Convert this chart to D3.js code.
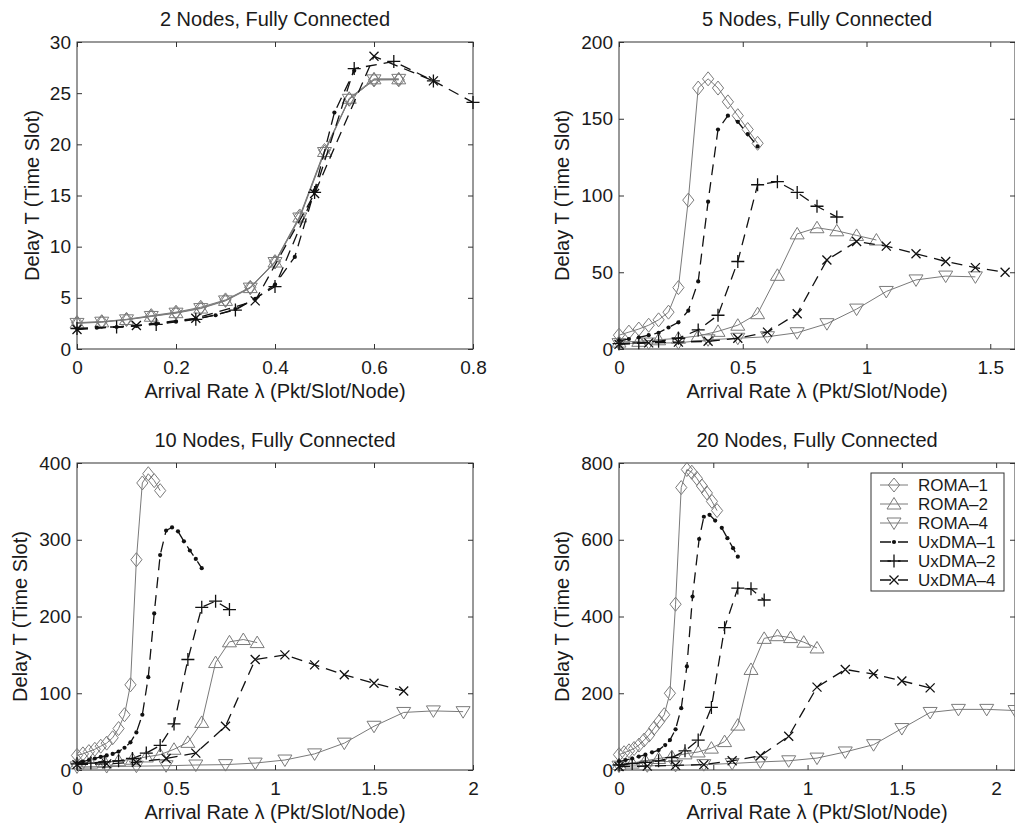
<!DOCTYPE html>
<html>
<head>
<meta charset="utf-8">
<script src="https://cdn.jsdelivr.net/npm/d3@7"></script>
<style>
	body { margin: 0; background: #fff; }
	text { font-family: "Liberation Sans", Arial, Helvetica, sans-serif; fill: #1a1a1a; }
</style>
</head>
<body>
<svg id="chart" width="1015" height="828"></svg>
<script>
/* series names, in legend order */
const seriesNames = ["ROMA–1", "ROMA–2", "ROMA–4", "UxDMA–1", "UxDMA–2", "UxDMA–4"];

/* ---- 2 nodes ---- */
const n2_roma1 = [[0,2.58],[0.05,2.67],[0.1,2.9],[0.15,3.26],[0.2,3.6],[0.25,4.08],[0.3,4.8],[0.35,6.03],[0.4,8.54],[0.45,13.0],[0.5,19.4],[0.55,24.4],[0.6,26.3],[0.65,26.3]];
const n2_roma2 = [[0,2.55],[0.05,2.65],[0.1,2.88],[0.15,3.2],[0.2,3.55],[0.25,4.0],[0.3,4.75],[0.35,6.0],[0.4,8.5],[0.45,12.9],[0.5,19.3],[0.55,24.5],[0.6,26.4],[0.65,26.4]];
const n2_roma4 = [[0,2.5],[0.05,2.62],[0.1,2.85],[0.15,3.18],[0.2,3.5],[0.25,3.95],[0.3,4.7],[0.35,5.95],[0.4,8.45],[0.45,12.8],[0.5,19.2],[0.55,24.4],[0.6,26.3],[0.65,26.35]];
const n2_uxdma1 = [[0,2.0],[0.04,2.08],[0.08,2.15],[0.12,2.25],[0.16,2.45],[0.2,2.67],[0.24,2.95],[0.28,3.3],[0.32,3.9],[0.36,4.9],[0.4,6.3],[0.44,9.0],[0.48,15.5],[0.52,23.1],[0.56,27.2]];
const n2_uxdma2 = [[0,2.0],[0.08,2.15],[0.16,2.4],[0.24,2.9],[0.32,3.8],[0.4,6.1],[0.48,15.3],[0.56,27.4],[0.64,28.1],[0.72,26.2],[0.8,24.1]];
const n2_uxdma4 = [[0,1.9],[0.12,2.3],[0.24,3.0],[0.36,4.7],[0.48,15.2],[0.6,28.6],[0.72,26.2]];

/* ---- 5 nodes ---- */
const n5_roma1 = [[0,9],[0.04,11],[0.08,13],[0.12,15.5],[0.16,19],[0.2,24],[0.24,40],[0.28,97],[0.32,170],[0.36,176],[0.4,170],[0.44,161],[0.48,152],[0.52,143],[0.56,134]];
const n5_roma2 = [[0,4.5],[0.08,5],[0.16,6],[0.24,7],[0.32,8.5],[0.4,11.5],[0.48,15.5],[0.56,23],[0.64,48],[0.72,75],[0.8,79],[0.88,77],[0.96,74],[1.04,71]];
const n5_roma4 = [[0,3.5],[0.12,3.9],[0.24,4],[0.36,6],[0.48,7],[0.6,8],[0.72,10.6],[0.84,16.5],[0.96,26],[1.08,37.5],[1.2,45],[1.32,47.5],[1.44,47]];
const n5_uxdma1 = [[0,5.5],[0.04,6.5],[0.08,7.5],[0.12,9],[0.16,10.6],[0.2,14],[0.24,17.4],[0.28,25],[0.32,44],[0.36,96],[0.4,143],[0.44,152],[0.48,148],[0.52,140],[0.56,132]];
const n5_uxdma2 = [[0,3.5],[0.08,4],[0.16,5],[0.24,7],[0.32,12.4],[0.4,22],[0.48,57],[0.56,107],[0.64,109],[0.72,102],[0.8,93],[0.88,86]];
const n5_uxdma4 = [[0,3],[0.12,4],[0.24,4.5],[0.36,5],[0.48,7],[0.6,11],[0.72,23],[0.84,58],[0.96,70],[1.08,67],[1.2,62],[1.32,57],[1.44,53],[1.56,50]];

/* ---- 10 nodes ---- */
const n10_roma1 = [[0,19],[0.03,21],[0.06,24],[0.09,27],[0.12,31],[0.15,35],[0.18,42],[0.21,54],[0.24,72],[0.27,111],[0.3,274],[0.33,374],[0.36,386],[0.39,377],[0.42,364]];
const n10_roma2 = [[0,8],[0.07,9],[0.14,10],[0.21,12],[0.28,14],[0.35,17],[0.42,20],[0.49,27],[0.56,36],[0.63,62],[0.7,140],[0.77,167],[0.84,170],[0.91,166]];
const n10_roma4 = [[0,4],[0.15,4.5],[0.3,5],[0.45,5.5],[0.6,6.5],[0.75,7],[0.9,9],[1.05,13],[1.2,21],[1.35,35],[1.5,57],[1.65,75],[1.8,77],[1.95,76]];
const n10_uxdma1 = [[0,9],[0.03,11],[0.06,13],[0.09,15],[0.12,17],[0.15,19],[0.18,21],[0.21,24],[0.24,29],[0.27,36],[0.3,49],[0.33,72],[0.36,121],[0.39,204],[0.42,280],[0.45,312],[0.48,316],[0.51,311],[0.54,298],[0.57,286],[0.6,275],[0.63,263]];
const n10_uxdma2 = [[0,8],[0.07,9],[0.14,10.5],[0.21,12],[0.28,15],[0.35,22],[0.42,32],[0.49,60],[0.56,144],[0.63,212],[0.7,220],[0.77,209]];
const n10_uxdma4 = [[0,7],[0.15,8],[0.3,10],[0.45,15],[0.6,22],[0.75,57],[0.9,144],[1.05,150],[1.2,137],[1.35,124],[1.5,113],[1.65,103]];

/* ---- 20 nodes ---- */
const n20_roma1 = [[0,40],[0.027,45],[0.053,50],[0.08,56],[0.106,65],[0.133,78],[0.16,91],[0.186,109],[0.213,126],[0.24,144],[0.27,200],[0.3,432],[0.33,736],[0.36,783],[0.386,776],[0.413,760],[0.44,740],[0.466,722],[0.493,700],[0.52,676]];
const n20_roma2 = [[0,14],[0.07,18],[0.14,24],[0.21,30],[0.28,35],[0.35,42],[0.42,47],[0.49,57],[0.56,74],[0.63,117],[0.7,262],[0.77,343],[0.84,350],[0.91,345],[0.98,333],[1.05,318]];
const n20_roma4 = [[0,10],[0.15,11],[0.3,12],[0.45,14],[0.6,17],[0.75,21],[0.9,24],[1.05,31],[1.2,47],[1.35,66],[1.5,108],[1.65,150],[1.8,158],[1.95,158],[2.1,155]];
const n20_uxdma1 = [[0,22],[0.035,26],[0.07,30],[0.105,35],[0.14,40],[0.175,46],[0.21,52],[0.245,65],[0.27,78],[0.3,106],[0.33,161],[0.36,270],[0.39,452],[0.425,602],[0.45,660],[0.48,665],[0.51,650],[0.545,631],[0.575,604],[0.605,578],[0.63,556]];
const n20_uxdma2 = [[0,13],[0.07,17],[0.14,20],[0.21,24],[0.28,32],[0.35,50],[0.42,78],[0.49,163],[0.56,371],[0.63,474],[0.7,472],[0.77,443]];
const n20_uxdma4 = [[0,9],[0.15,10],[0.3,12],[0.45,14],[0.6,24],[0.75,37],[0.9,88],[1.05,216],[1.2,262],[1.35,250],[1.5,232],[1.65,214]];

/* axis ticks */
const xTicks_n2 = [0, 0.2, 0.4, 0.6, 0.8];
const yTicks_n2 = [0, 5, 10, 15, 20, 25, 30];
const xTicks_n5 = [0, 0.5, 1, 1.5];
const yTicks_n5 = [0, 50, 100, 150, 200];
const xTicks_n10 = [0, 0.5, 1, 1.5, 2];
const yTicks_n10 = [0, 100, 200, 300, 400];
const xTicks_n20 = [0, 0.5, 1, 1.5, 2];
const yTicks_n20 = [0, 200, 400, 600, 800];

const titles = ["2 Nodes, Fully Connected", "5 Nodes, Fully Connected", "10 Nodes, Fully Connected", "20 Nodes, Fully Connected"];

/* styles for each series */
const GRAY = "#7a7a7a", BLACK = "#111";
const styles = [
	{ color: GRAY, dash: null, width: 1, marker: "diamond" },
	{ color: GRAY, dash: null, width: 1, marker: "triUp" },
	{ color: GRAY, dash: null, width: 1, marker: "triDown" },
	{ color: BLACK, dash: "11,7", width: 1.3, marker: "dot" },
	{ color: BLACK, dash: "11,7", width: 1.3, marker: "plus" },
	{ color: BLACK, dash: "11,7", width: 1.3, marker: "cross" }
];

const markerPaths = {
	diamond: "M0,-7L5.6,0L0,7L-5.6,0Z",
	triUp: "M0,-6.5L7,5L-7,5Z",
	triDown: "M0,6.5L7,-5L-7,-5Z",
	plus: "M-6.5,0H6.5M0,-6.5V6.5",
	cross: "M-4.5,-4.5L4.5,4.5M4.5,-4.5L-4.5,4.5"
};

const W = 396, H = 307;
const panels = [
	{ left: 77,  top: 42,  xMax: 0.8, yMax: 30,  xTicks: xTicks_n2,  yTicks: yTicks_n2,  ylabX: 39,  series: [n2_roma1, n2_roma2, n2_roma4, n2_uxdma1, n2_uxdma2, n2_uxdma4] },
	{ left: 619, top: 42,  xMax: 1.6, yMax: 200, xTicks: xTicks_n5,  yTicks: yTicks_n5,  ylabX: 569, series: [n5_roma1, n5_roma2, n5_roma4, n5_uxdma1, n5_uxdma2, n5_uxdma4] },
	{ left: 77,  top: 463, xMax: 2,   yMax: 400, xTicks: xTicks_n10, yTicks: yTicks_n10, ylabX: 27,  series: [n10_roma1, n10_roma2, n10_roma4, n10_uxdma1, n10_uxdma2, n10_uxdma4] },
	{ left: 619, top: 463, xMax: 2.1, yMax: 800, xTicks: xTicks_n20, yTicks: yTicks_n20, ylabX: 569, series: [n20_roma1, n20_roma2, n20_roma4, n20_uxdma1, n20_uxdma2, n20_uxdma4] }
];

const svg = d3.select("#chart");

function drawMarker(g, style, x, y) {
	if (style.marker === "dot") {
		g.append("circle").attr("cx", x).attr("cy", y).attr("r", 2.1)
			.attr("fill", style.color);
	} else {
		g.append("path").attr("d", markerPaths[style.marker])
			.attr("transform", `translate(${x},${y})`)
			.attr("fill", "none")
			.attr("stroke", style.color)
			.attr("stroke-width", style.marker === "plus" || style.marker === "cross" ? 1.3 : 1);
	}
}

panels.forEach((p, i) => {
	const g = svg.append("g").attr("transform", `translate(${p.left},${p.top})`);
	const x = d3.scaleLinear().domain([0, p.xMax]).range([0, W]);
	const y = d3.scaleLinear().domain([0, p.yMax]).range([H, 0]);
	const fmt = (d) => String(d);

	/* axes with inward ticks on all four sides */
	const axB = g.append("g").attr("transform", `translate(0,${H})`)
		.call(d3.axisBottom(x).tickValues(p.xTicks).tickSize(-5).tickPadding(12).tickFormat(fmt));
	const axL = g.append("g")
		.call(d3.axisLeft(y).tickValues(p.yTicks).tickSize(-5).tickPadding(6).tickFormat(fmt));
	g.append("g").call(d3.axisTop(x).tickValues(p.xTicks).tickSize(-5).tickFormat(""));
	g.append("g").attr("transform", `translate(${W},0)`)
		.call(d3.axisRight(y).tickValues(p.yTicks).tickSize(-5).tickFormat(""));
	g.selectAll(".domain").remove();
	g.selectAll(".tick line").attr("stroke", "#333").attr("stroke-width", 1);
	g.selectAll(".tick text").attr("font-size", 19).attr("fill", "#1a1a1a")
		.attr("font-family", "'Liberation Sans', Arial, sans-serif");
	g.append("rect").attr("width", W).attr("height", H)
		.attr("fill", "none").attr("stroke", "#333").attr("stroke-width", 1);

	/* lines and markers */
	const line = d3.line().x((d) => x(d[0])).y((d) => y(d[1]));
	p.series.forEach((data, k) => {
		const st = styles[k];
		g.append("path").datum(data)
			.attr("d", line)
			.attr("fill", "none")
			.attr("stroke", st.color)
			.attr("stroke-width", st.width)
			.attr("stroke-dasharray", st.dash);
		const mg = g.append("g").attr("class", "markers");
		data.forEach((d) => drawMarker(mg, st, x(d[0]), y(d[1])));
	});

	/* labels */
	svg.append("text")
		.attr("x", p.left + W / 2).attr("y", p.top - 16)
		.attr("text-anchor", "middle").attr("font-size", 20)
		.text(titles[i]);
	svg.append("text")
		.attr("x", p.left + W / 2).attr("y", p.top + H + 49)
		.attr("text-anchor", "middle").attr("font-size", 20)
		.text("Arrival Rate λ (Pkt/Slot/Node)");
	svg.append("text")
		.attr("transform", `translate(${p.ylabX},${p.top + H / 2}) rotate(-90)`)
		.attr("text-anchor", "middle").attr("font-size", 20)
		.text("Delay T (Time Slot)");
});

/* legend in the 20-node panel */
const leg = svg.append("g").attr("transform", "translate(871,473)");
leg.append("rect").attr("width", 133).attr("height", 118)
	.attr("fill", "#fff").attr("stroke", "#333").attr("stroke-width", 1);
seriesNames.forEach((name, k) => {
	const st = styles[k];
	const yy = 12 + k * 19;
	leg.append("line").attr("x1", 9).attr("x2", 37).attr("y1", yy).attr("y2", yy)
		.attr("stroke", st.color).attr("stroke-width", st.width)
		.attr("stroke-dasharray", st.dash);
	drawMarker(leg, st, 23, yy);
	leg.append("text").attr("x", 47).attr("y", yy + 6)
		.attr("font-size", 17).text(name);
});
</script>
</body>
</html>
